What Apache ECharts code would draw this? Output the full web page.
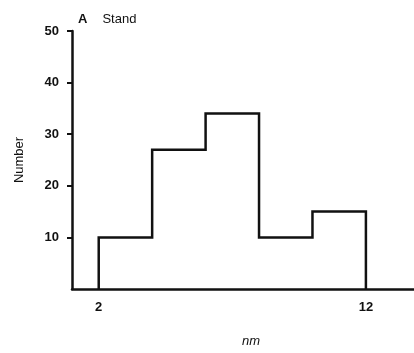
<!DOCTYPE html>
<html>
<head>
<meta charset="utf-8">
<script src="https://cdn.jsdelivr.net/npm/echarts@6/dist/echarts.min.js"></script>
<style>
  html, body { margin: 0; padding: 0; background: #fff; }
  #chart { width: 414px; height: 353px; }
</style>
</head>
<body>
<div id="chart"></div>
<script>
// bin edges (nm) and counts
var binStarts = [2, 4, 6, 8, 10];
var binWidth = 2;
var counts = [10, 27, 34, 10, 15];
var yTicks = [10, 20, 30, 40, 50];
var xTicks = [2, 12];

// outline of the histogram as step points
var outline = [[binStarts[0], 0]];
for (var i = 0; i < counts.length; i++) {
    outline.push([binStarts[i], counts[i]]);
    outline.push([binStarts[i] + binWidth, counts[i]]);
}
outline.push([binStarts[binStarts.length - 1] + binWidth, 0]);

var font = 'Liberation Sans, Arial, sans-serif';
var myChart = echarts.init(document.getElementById('chart'));

var option = {
    animation: false,
    title: {
        text: '{a|A}   {b|Stand}',
        left: 73,
        top: 5,
        textStyle: {
            rich: {
                a: { fontFamily: font, fontSize: 13, fontWeight: 'bold', color: '#111' },
                b: { fontFamily: font, fontSize: 13, fontWeight: 'normal', color: '#111' }
            }
        }
    },
    grid: { left: 72, right: 0, top: 31, bottom: 62, containLabel: false },
    xAxis: {
        type: 'value',
        min: 1,
        max: 13.8,
        name: 'nm',
        nameLocation: 'middle',
        nameGap: 46,
        nameTextStyle: { fontFamily: font, fontSize: 13, fontStyle: 'italic', color: '#111', padding: [0, 0, 0, 16] },
        axisLine: { show: true, lineStyle: { color: '#111', width: 2.5 } },
        axisTick: { show: false },
        splitLine: { show: false },
        axisLabel: {
            customValues: xTicks,
            margin: 12,
            fontFamily: font, fontSize: 13, fontWeight: 'bold', color: '#111'
        }
    },
    yAxis: {
        type: 'value',
        min: 0,
        max: 50,
        interval: 10,
        name: 'Number',
        nameLocation: 'middle',
        nameRotate: 90,
        nameGap: 46,
        nameTextStyle: { fontFamily: font, fontSize: 13, color: '#111' },
        axisLine: { show: true, lineStyle: { color: '#111', width: 2.5 } },
        axisTick: { show: true, customValues: yTicks, length: 5, lineStyle: { color: '#111', width: 2 } },
        splitLine: { show: false },
        axisLabel: {
            customValues: yTicks,
            margin: 13,
            fontFamily: font, fontSize: 13, fontWeight: 'bold', color: '#111'
        }
    },
    series: [{
        type: 'line',
        data: outline,
        symbol: 'none',
        lineStyle: { color: '#111', width: 2.5, join: 'miter' }
    }]
};
myChart.setOption(option);
</script>
</body>
</html>
